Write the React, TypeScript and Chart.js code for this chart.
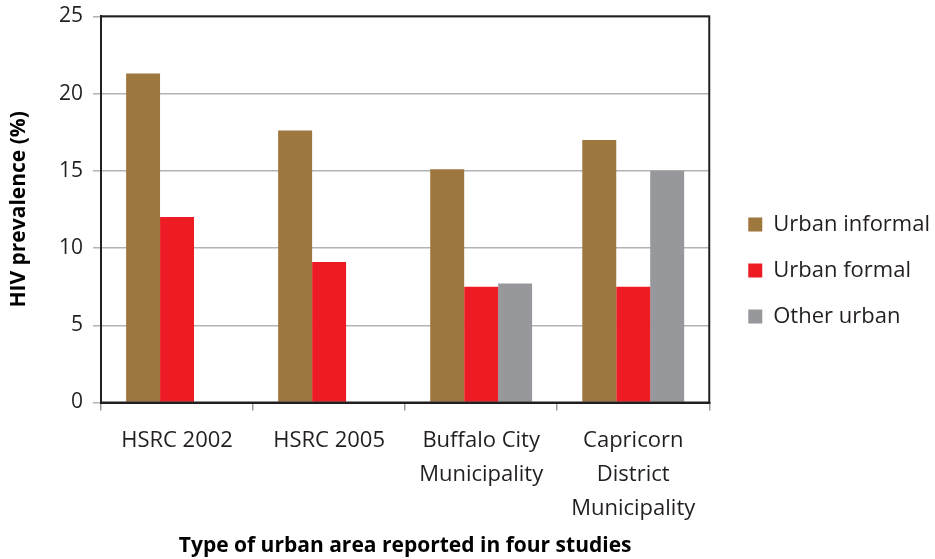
import React, { useEffect, useRef } from "react";
import { Chart, registerables } from "chart.js";

Chart.register(...registerables);

const categories: string[][] = [
  ["HSRC 2002"],
  ["HSRC 2005"],
  ["Buffalo City", "Municipality"],
  ["Capricorn", "District", "Municipality"],
];
const urbanInformal: (number | null)[] = [21.3, 17.6, 15.1, 17.0];
const urbanFormal: (number | null)[] = [12.0, 9.1, 7.5, 7.5];
const otherUrban: (number | null)[] = [null, null, 7.7, 15.0];
const yTicks = { min: 0, max: 25, step: 5 };
const yTitle = "HIV prevalence (%)";
const xTitle = "Type of urban area reported in four studies";
const seriesNames = ["Urban informal", "Urban formal", "Other urban"];

const FONT = "'Open Sans', 'DejaVu Sans', sans-serif";

const borderPlugin = {
  id: "plotBorder",
  afterDraw(chart: any) {
    const { ctx, chartArea } = chart;
    ctx.save();
    ctx.strokeStyle = "#231f20";
    ctx.lineWidth = 2;
    ctx.strokeRect(chartArea.left, chartArea.top, chartArea.right - chartArea.left, chartArea.bottom - chartArea.top);
    ctx.restore();
  },
};

export default function App() {
  const ref = useRef<HTMLCanvasElement | null>(null);
  useEffect(() => {
    if (!ref.current) return;
    const chart = new Chart(ref.current, {
      type: "bar",
      data: {
        labels: categories,
        datasets: [
          { label: seriesNames[0], data: urbanInformal, backgroundColor: "#9e773e" },
          { label: seriesNames[1], data: urbanFormal, backgroundColor: "#ed1c24" },
          { label: seriesNames[2], data: otherUrban, backgroundColor: "#97989c" },
        ],
      },
      options: {
        animation: false,
        responsive: false,
        devicePixelRatio: 1,
        layout: { padding: { top: 0, left: 0, right: -5, bottom: 18 } },
        datasets: { bar: { categoryPercentage: 0.67, barPercentage: 1.0 } },
        plugins: {
          legend: {
            position: "right",
            maxWidth: 260,
            labels: {
              boxWidth: 14,
              boxHeight: 14,
              padding: 24,
              color: "#231f20",
              font: { family: FONT, size: 22 },
            },
          },
          tooltip: { enabled: false },
        },
        scales: {
          x: {
            type: "category",
            grid: { offset: true, drawOnChartArea: false, tickLength: 8, color: "#999", lineWidth: 1.5 },
            border: { display: true, color: "#231f20", width: 2 },
            ticks: {
              color: "#231f20",
              font: { family: FONT, size: 22, lineHeight: 1.55 },
              padding: 13,
              maxRotation: 0,
              autoSkip: false,
            },
            title: {
              display: true,
              text: xTitle,
              color: "#000",
              font: { family: FONT, size: 21, weight: "bold" },
              padding: { top: -5, bottom: -18 },
            },
          },
          y: {
            min: yTicks.min,
            max: yTicks.max,
            ticks: {
              stepSize: yTicks.step,
              color: "#231f20",
              font: { family: FONT, size: 21, lineHeight: 0.6 },
              padding: 10,
            },
            grid: { color: "#b3b3b3", lineWidth: 1.5, tickLength: 8 },
            border: { display: true, color: "#231f20", width: 2 },
            title: {
              display: true,
              text: yTitle,
              color: "#000",
              font: { family: FONT, size: 21, weight: "bold" },
              padding: { top: 6, bottom: 0 },
            },
            afterFit: (s: any) => {
              s.width = 101;
            },
          },
          spacer: {
            type: "linear",
            position: "right",
            display: true,
            grid: { display: false },
            ticks: { display: false },
            border: { display: false },
            afterFit: (s: any) => {
              s.width = 15;
            },
          },
        },
      },
      plugins: [borderPlugin],
    } as any);
    return () => chart.destroy();
  }, []);
  return (
    <div style={{ position: "absolute", left: 0, top: 0, width: 935, height: 559, background: "#fff" }}>
      <canvas ref={ref} width={935} height={559} />
    </div>
  );
}
